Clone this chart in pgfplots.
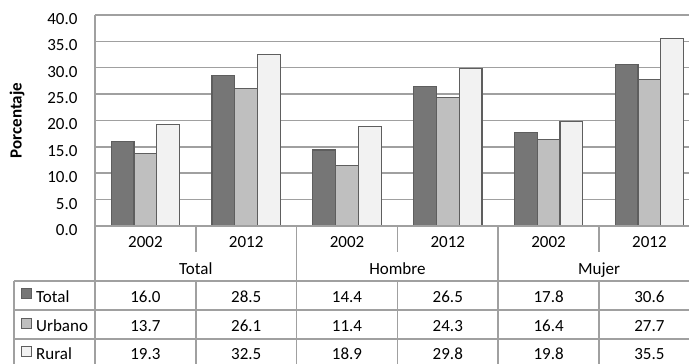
\documentclass[border=0pt]{standalone}
\usepackage{fontspec}
\setmainfont{Carlito}
\usepackage{pgfplots}
\usepackage{pgfplotstable}
\pgfplotsset{compat=1.18}
\pgfkeys{/pgf/number format/assume math mode=true}

\definecolor{cTotal}{HTML}{767676}
\definecolor{cUrbano}{HTML}{BFBFBF}
\definecolor{cRural}{HTML}{F2F2F2}
\definecolor{barEdge}{HTML}{5E5E5E}
\definecolor{rule}{HTML}{A0A0A0}

% Porcentaje por sexo, año y área
\pgfplotstableread{
x grupo anio total urbano rural
0 Total  2002 16.0 13.7 19.3
1 Total  2012 28.5 26.1 32.5
2 Hombre 2002 14.4 11.4 18.9
3 Hombre 2012 26.5 24.3 29.8
4 Mujer  2002 17.8 16.4 19.8
5 Mujer  2012 30.6 27.7 35.5
}\datos

\newcommand{\cellfont}{\fontsize{17}{20}\selectfont}

\begin{document}
\begin{tikzpicture}[x=1pt, y=1pt, font=\cellfont]
\useasboundingbox (0,0) rectangle (689,364);
\begin{axis}[
  at={(95pt,138pt)}, anchor=south west,
  scale only axis, width=604.8pt, height=211pt,
  xmin=-0.5, xmax=5.5, ymin=0, ymax=40,
  ytick={0,5,...,40},
  xtick=\empty,
  axis x line*=bottom, axis y line*=left,
  axis line style={draw=rule, line width=1.5pt, -},
  ymajorgrids, grid style={draw=rule, line width=1.5pt},
  major tick length=0pt,
  yticklabel style={font=\cellfont, inner sep=0pt, xshift=-17.3pt, yshift=-4pt,
    /pgf/number format/.cd, fixed, fixed zerofill, precision=1},
  ylabel={\bfseries Porcentaje},
  ylabel style={font=\cellfont, at={(axis description cs:-0.129,0.5)}, anchor=center},
  ybar=0pt, bar width=22.8pt,
]
\addplot[fill=cTotal,  draw=barEdge, line width=1.2pt] table[x=x, y=total]  {\datos};
\addplot[fill=cUrbano, draw=barEdge, line width=1.2pt] table[x=x, y=urbano] {\datos};
\addplot[fill=cRural,  draw=barEdge, line width=1.2pt] table[x=x, y=rural]  {\datos};
\end{axis}

% data table under the chart
\begin{scope}[draw=rule, line width=1.5pt]
  \draw (95,138) -- (700,138);
  \foreach \k in {0,2,4,6} \draw (95+100.8*\k,138) -- (95+100.8*\k,-5);
  \foreach \k in {1,3,5} {
    \draw (95+100.8*\k,138) -- (95+100.8*\k,112);
    \draw (95+100.8*\k,83) -- (95+100.8*\k,-5);
  }
  \draw (14,83) -- (14,-5);
  \foreach \yy in {83,54,25} \draw (14,\yy) -- (700,\yy);
\end{scope}

\foreach \k/\yr in {0/2002,1/2012,2/2002,3/2012,4/2002,5/2012}
  \node[anchor=base, inner sep=0pt] at (145.4+100.8*\k,116) {\yr};
\node[anchor=base, inner sep=0pt] at (195.8,89) {Total};
\node[anchor=base, inner sep=0pt] at (397.4,89) {Hombre};
\node[anchor=base, inner sep=0pt] at (599.0,89) {Mujer};

\foreach \c/\lab/\yb/\ys in {cTotal/Total/61/65, cUrbano/Urbano/32.3/35, cRural/Rural/4/7} {
  \draw[fill=\c, draw=barEdge, line width=1pt] (21,\ys) rectangle (31,\ys+10);
  \node[anchor=base west, inner sep=0pt] at (36,\yb) {\lab};
}

\foreach \k in {0,...,5} {
  \pgfplotstablegetelem{\k}{total}\of\datos
  \node[anchor=base, inner sep=0pt] at (145.4+100.8*\k,61)
    {\pgfmathprintnumber[fixed,fixed zerofill,precision=1]{\pgfplotsretval}};
  \pgfplotstablegetelem{\k}{urbano}\of\datos
  \node[anchor=base, inner sep=0pt] at (145.4+100.8*\k,32.3)
    {\pgfmathprintnumber[fixed,fixed zerofill,precision=1]{\pgfplotsretval}};
  \pgfplotstablegetelem{\k}{rural}\of\datos
  \node[anchor=base, inner sep=0pt] at (145.4+100.8*\k,4)
    {\pgfmathprintnumber[fixed,fixed zerofill,precision=1]{\pgfplotsretval}};
}
\end{tikzpicture}
\end{document}
